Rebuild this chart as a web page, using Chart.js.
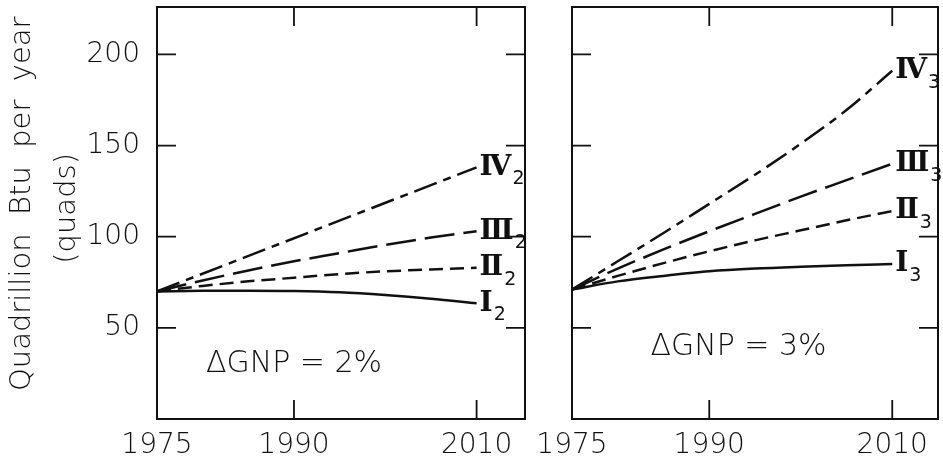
<!DOCTYPE html>
<html>
<head>
<meta charset="utf-8">
<script src="https://cdn.jsdelivr.net/npm/chart.js@4.4.1/dist/chart.umd.min.js"></script>
<style>
  html, body { margin: 0; padding: 0; background: #fff; }
  #left { position: absolute; left: 0; top: 0; }
  #right { position: absolute; left: 530px; top: 0; }
</style>
</head>
<body>
<canvas id="left" width="530" height="458"></canvas>
<canvas id="right" width="413" height="458"></canvas>
<script>
// values (quads per year)
var years = [1975, 1980, 1985, 1990, 1995, 2000, 2005, 2010];
var ends = [1975, 2010];

var gnp2_I = [70, 70.3, 70.4, 70.2, 69.5, 68, 66, 63.5];
var gnp2_II = [70, 73, 75.5, 77.5, 79.5, 81, 82, 83];
var gnp2_III = [70, 76, 81.5, 86.5, 91, 95.5, 99.5, 103];
var gnp2_IV = [70, 138];

var gnp3_I = [71, 75.5, 78.5, 81, 82.5, 83.5, 84.3, 85];
var gnp3_II = [71, 78.5, 85.5, 92, 98, 103.5, 109, 114];
var gnp3_III = [71, 82.5, 93, 103, 112.5, 122, 131, 140];
var gnp3_IV = [71, 86.5, 102, 118, 134, 151, 169.5, 191];

var scenarios = ["\u2160", "\u2161", "\u2162", "\u2163"];
var xTicks = [1975, 1990, 2010];
var yTicks = [50, 100, 150, 200];

var ink = "#111";
var face = "'DejaVu Sans', sans-serif";

Chart.defaults.font.family = face;
Chart.defaults.color = ink;

function pts(xs, ys) {
  return ys.map(function(v, i) { return {x: xs[i], y: v}; });
}

function line(label, data, dash) {
  return {
    label: label,
    data: data,
    borderColor: ink,
    borderWidth: 2.5,
    borderDash: dash,
    pointRadius: 0,
    fill: false,
    cubicInterpolationMode: "monotone"
  };
}

// frame, inward ticks, end labels and the GNP note
var decor = {
  id: "decor",
  afterDatasetsDraw: function(chart, args, opts) {
    var ctx = chart.ctx, a = chart.chartArea;
    var x = chart.scales.x, y = chart.scales.y;
    var len = 19;
    ctx.save();
    ctx.strokeStyle = ink;
    ctx.fillStyle = ink;
    ctx.lineWidth = 2;
    ctx.strokeRect(a.left, a.top, a.right - a.left, a.bottom - a.top);

    ctx.lineWidth = 1.8;
    ctx.beginPath();
    yTicks.forEach(function(v) {
      var py = y.getPixelForValue(v);
      ctx.moveTo(a.left, py); ctx.lineTo(a.left + len, py);
      ctx.moveTo(a.right, py); ctx.lineTo(a.right - len, py);
    });
    xTicks.slice(1).forEach(function(v) {
      var px = x.getPixelForValue(v);
      ctx.moveTo(px, a.bottom); ctx.lineTo(px, a.bottom - len);
      ctx.moveTo(px, a.top); ctx.lineTo(px, a.top + len);
    });
    ctx.stroke();

    ctx.textAlign = "left";
    ctx.textBaseline = "middle";
    chart.data.datasets.forEach(function(ds, i) {
      var els = chart.getDatasetMeta(i).data;
      var p = els[els.length - 1];
      ctx.font = "bold 28px 'DejaVu Serif', serif";
      ctx.fillText(ds.label, p.x + 3, p.y);
      var w = ctx.measureText(ds.label).width;
      ctx.font = "19px " + face;
      ctx.fillText(opts.sub, p.x + 4 + w, p.y + 12);
    });

    ctx.textAlign = "center";
    ctx.font = "300 30px " + face;
    ctx.fillText(opts.note, x.getPixelForValue(opts.noteAt[0]), y.getPixelForValue(opts.noteAt[1]));
    ctx.restore();
  }
};

function makeChart(id, sets, cfg) {
  return new Chart(document.getElementById(id), {
    type: "line",
    data: {datasets: sets},
    plugins: [decor],
    options: {
      responsive: false,
      animation: false,
      layout: {padding: {top: 7, right: cfg.padRight, left: 0, bottom: 0}},
      plugins: {
        legend: {display: false},
        tooltip: {enabled: false},
        decor: {sub: cfg.sub, note: cfg.note, noteAt: cfg.noteAt}
      },
      scales: {
        x: {
          type: "linear",
          min: 1975,
          max: cfg.xMax,
          grid: {display: false, drawTicks: false},
          border: {display: false},
          afterBuildTicks: function(s) { s.ticks = xTicks.map(function(v) { return {value: v}; }); },
          afterFit: function(s) { s.height = 39; s.paddingLeft = 0; s.paddingRight = 0; },
          ticks: {padding: 10, maxRotation: 0, font: {size: 28, weight: 300}, callback: function(v) { return String(v); }}
        },
        y: {
          min: 0,
          max: 226,
          grid: {display: false, drawTicks: false},
          border: {display: false},
          afterBuildTicks: function(s) { s.ticks = yTicks.map(function(v) { return {value: v}; }); },
          afterFit: function(s) { s.width = cfg.yWidth; s.paddingTop = 0; s.paddingBottom = 0; },
          ticks: {display: cfg.yLabels, padding: 17, font: {size: 28, weight: 300}},
          title: {
            display: cfg.yLabels,
            text: ["  Quadrillion  Btu  per  year", " (quads)"],
            font: {size: 29, weight: 300, lineHeight: 1.55},
            padding: {top: 0, bottom: 0}
          }
        }
      }
    }
  });
}

makeChart("left", [
  line(scenarios[3], pts(ends, gnp2_IV), [24, 7, 8, 7]),
  line(scenarios[2], pts(years, gnp2_III), [30, 9]),
  line(scenarios[1], pts(years, gnp2_II), [14, 7]),
  line(scenarios[0], pts(years, gnp2_I), [])
], {padRight: 5, xMax: 2015.3, yWidth: 157, yLabels: true, sub: "2", note: "\u0394GNP = 2%", noteAt: [1990, 30]});

makeChart("right", [
  line(scenarios[3], pts(years, gnp3_IV), [24, 7, 8, 7]),
  line(scenarios[2], pts(years, gnp3_III), [30, 9]),
  line(scenarios[1], pts(years, gnp3_II), [14, 7]),
  line(scenarios[0], pts(years, gnp3_I), [])
], {padRight: 5, xMax: 2015, yWidth: 42, yLabels: false, sub: "3", note: "\u0394GNP = 3%", noteAt: [1993.2, 39.6]});
</script>
</body>
</html>
